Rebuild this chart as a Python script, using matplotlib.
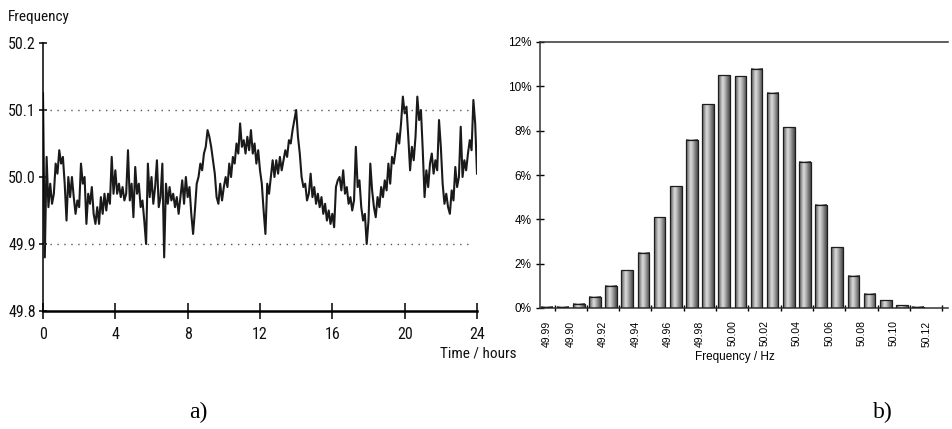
import numpy as np
import matplotlib as mpl
mpl.use('Agg')
import matplotlib.pyplot as plt
from matplotlib.colors import LinearSegmentedColormap

# panel a) - grid frequency over one day, 0.1 h steps
hours = np.arange(0, 24.01, 0.1)
freq = [
    50.125, 49.88, 50.03, 49.955, 49.99, 49.96, 49.975, 50.02, 50.005, 50.04,
    50.02, 50.03, 49.99, 49.935, 50.0, 49.97, 50.0, 49.97, 49.945, 49.965,
    49.955, 50.02, 49.99, 50.0, 49.93, 49.975, 49.96, 49.985, 49.945, 49.93,
    49.955, 49.93, 49.97, 49.945, 49.975, 49.95, 49.975, 49.96, 50.03, 49.975,
    50.01, 49.975, 49.99, 49.97, 49.985, 49.965, 49.975, 50.04, 49.965, 49.99,
    49.94, 50.015, 49.975, 49.99, 49.955, 49.965, 49.935, 49.9, 50.02, 49.97,
    50.0, 49.96, 49.985, 50.025, 49.955, 49.97, 50.02, 49.88, 49.99, 49.96,
    49.985, 49.965, 49.975, 49.955, 49.97, 49.945, 49.97, 49.995, 49.96, 50.0,
    49.97, 49.985, 49.945, 49.915, 49.95, 49.99, 50.0, 50.02, 50.01, 50.035,
    50.045, 50.07, 50.06, 50.045, 50.025, 50.005, 49.97, 49.96, 49.99, 49.965,
    49.985, 50.0, 49.985, 50.02, 50.0, 50.03, 50.02, 50.05, 50.035, 50.08,
    50.045, 50.055, 50.035, 50.06, 50.04, 50.07, 50.035, 50.05, 50.02, 50.04,
    50.01, 49.99, 49.95, 49.915, 49.99, 49.975, 50.0, 50.025, 50.0, 50.025,
    50.005, 50.03, 50.01, 50.025, 50.04, 50.03, 50.055, 50.05, 50.07, 50.085,
    50.1, 50.06, 50.035, 50.0, 49.985, 49.99, 49.965, 49.975, 50.005, 49.97,
    49.985, 49.96, 49.975, 49.955, 49.97, 49.945, 49.96, 49.935, 49.95, 49.93,
    49.945, 49.925, 49.985, 49.995, 50.0, 49.98, 50.01, 49.975, 49.985, 49.96,
    49.97, 49.95, 49.965, 50.045, 49.985, 49.995, 49.955, 49.935, 49.945, 49.9,
    49.935, 50.02, 49.98, 49.955, 49.94, 49.97, 49.955, 49.985, 49.97, 49.995,
    49.98, 50.02, 49.99, 50.03, 50.02, 50.04, 50.065, 50.05, 50.08, 50.12,
    50.095, 50.105, 50.06, 50.01, 50.045, 50.025, 50.06, 50.12, 50.085, 50.1,
    50.04, 49.97, 50.01, 49.985, 50.02, 50.035, 50.005, 50.025, 50.01, 50.085,
    50.045, 49.99, 49.96, 49.975, 49.955, 49.945, 49.98, 49.965, 50.015, 49.985,
    50.0, 50.075, 50.0, 50.025, 50.01, 50.035, 50.055, 50.04, 50.115, 50.08,
    50.005,
]
limits = [49.9, 50.1]

# panel b) - histogram of frequency, percent per 0.01 Hz bin
share = [0.05, 0.05, 0.2, 0.5, 1.0, 1.7, 2.5, 4.1, 5.5, 7.6, 9.2, 10.5,
         10.45, 10.8, 9.7, 8.15, 6.6, 4.65, 2.75, 1.45, 0.65, 0.35, 0.12, 0.05]
bin_labels = ['49.99', '49.90', '49.92', '49.94', '49.96', '49.98', '50.00',
              '50.02', '50.04', '50.06', '50.08', '50.10', '50.12']
label_pos = [0] + [1.5 + 2 * k for k in range(12)]

narrow = ['Roboto Condensed', 'Liberation Sans Narrow', 'Roboto']
arial = ['Liberation Sans', 'DejaVu Sans']

W, H = 953, 429
fig = plt.figure(figsize=(W / 100, H / 100), dpi=100)

# ---- a) ----
ax1 = fig.add_axes([43 / W, (H - 311) / H, 434 / W, 268 / H])
ax1.plot(hours, freq, color='#1a1a1a', lw=1.5)
for lim in limits:
    ax1.plot([0, 23.8], [lim, lim], color='#555555', lw=1.0, ls=(0, (1, 4)))
ax1.set_xlim(0, 24)
ax1.set_ylim(49.8, 50.2)
ax1.spines['top'].set_visible(False)
ax1.spines['right'].set_visible(False)
ax1.spines['bottom'].set_linewidth(1.8)
ax1.spines['left'].set_linewidth(1.1)
ax1.set_xticks(range(0, 25, 4))
ax1.set_yticks([49.8, 49.9, 50.0, 50.1, 50.2])
ax1.set_yticklabels(['49.8', '49.9', '50.0', '50.1', '50.2'])
ax1.tick_params(axis='x', direction='inout', length=11, width=1.1, pad=6)
ax1.tick_params(axis='y', direction='inout', length=6, width=1.1, pad=2)
for lab in ax1.get_xticklabels() + ax1.get_yticklabels():
    lab.set_family(narrow)
    lab.set_fontsize(11.5)
    lab.set_color('#111111')
fig.text(8 / W, 1 - 17 / H, 'Frequency', family=narrow, fontsize=11,
         va='center', ha='left', color='#111111')
fig.text(478 / W, 1 - 354 / H, 'Time / hours', family=narrow, fontsize=11,
         va='center', ha='center', color='#111111')

# ---- b) ----
ax2 = fig.add_axes([540 / W, (H - 308) / H, 408 / W, 266 / H])
xs = np.arange(len(share))
bw = 0.72
shade = LinearSegmentedColormap.from_list(
    'bar', ['#5a5a5a', '#9a9a9a', '#dcdcdc', '#b0b0b0', '#7a7a7a', '#4a4a4a'])
grad = np.linspace(0, 1, 64).reshape(1, -1)
for x, h in zip(xs, share):
    ax2.imshow(grad, cmap=shade, aspect='auto', origin='lower',
               extent=[x - bw / 2, x + bw / 2, 0, h], zorder=2)
ax2.bar(xs, share, width=bw, facecolor='none', edgecolor='#1e1e1e',
        lw=0.9, zorder=3)
ax2.set_xlim(-0.4, 24.85)
ax2.set_ylim(0, 12)
ax2.spines['right'].set_visible(False)
for s in ['top', 'left', 'bottom']:
    ax2.spines[s].set_linewidth(1.1)
    ax2.spines[s].set_color('#333333')
ax2.set_yticks(range(0, 13, 2))
ax2.set_yticklabels(['%d%%' % v for v in range(0, 13, 2)])
ax2.set_xticks(label_pos)
ax2.set_xticklabels(bin_labels, rotation=90, va='top')
ax2.set_xticks(np.arange(0.5, 25, 1), minor=True)
ax2.tick_params(axis='x', which='major', length=0, pad=9)
ax2.tick_params(axis='x', which='minor', direction='inout', length=5, width=1)
ax2.tick_params(axis='y', direction='inout', length=6, width=1, pad=3)
for lab in ax2.get_yticklabels():
    lab.set_family(arial)
    lab.set_fontsize(8.5)
for lab in ax2.get_xticklabels():
    lab.set_family(arial)
    lab.set_fontsize(7.5)
fig.text(735 / W, 1 - 357 / H, 'Frequency / Hz', family=arial, fontsize=8.5,
         va='center', ha='center')

fig.text(198 / W, 1 - 412 / H, 'a)', family=['Liberation Serif'], fontsize=17,
         va='center', ha='center')
fig.text(883 / W, 1 - 412 / H, 'b)', family=['Liberation Serif'], fontsize=17,
         va='center', ha='center')

fig.savefig('out.png', dpi=100)
